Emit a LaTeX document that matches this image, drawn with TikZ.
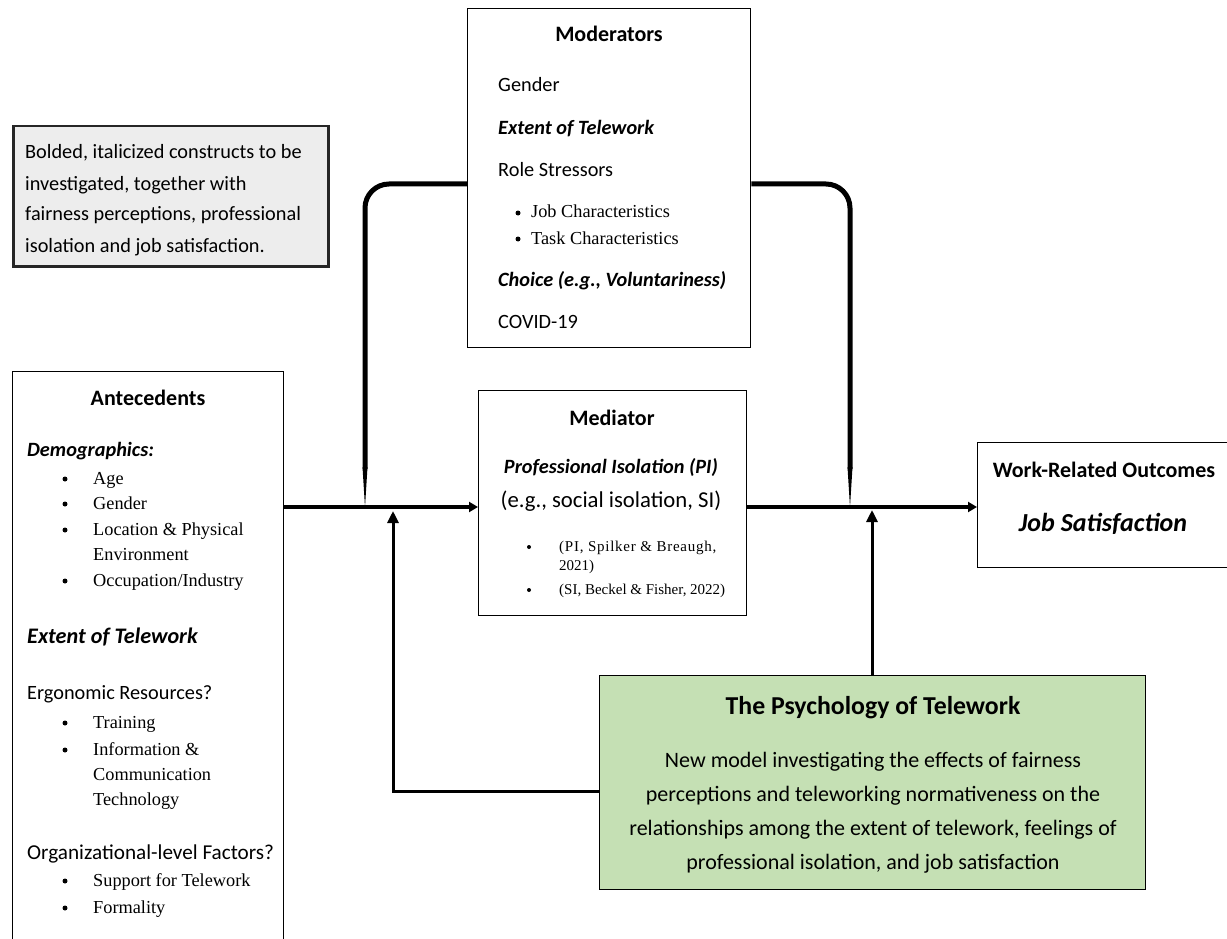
\documentclass[tikz,border=0pt]{standalone}
\usepackage{fontspec}
\setmainfont{Carlito}
\newfontfamily\tnr{Liberation Serif}
\newfontfamily\tnrsp[LetterSpace=5]{Liberation Serif}
\usetikzlibrary{arrows.meta}
\definecolor{notegray}{HTML}{EDEDED}
\definecolor{psygreen}{HTML}{C5E0B4}
\begin{document}
\begin{tikzpicture}[x=1pt,y=-1pt,
 box/.style={draw=black, line width=1.3pt, anchor=north west, inner sep=0pt},
 txt/.style={inner sep=0pt, anchor=base west, font=\fontsize{20.3}{24}\selectfont},
 hdr/.style={inner sep=0pt, anchor=base, font=\fontsize{22}{26}\selectfont\bfseries},
 bi/.style={inner sep=0pt, anchor=base west, font=\fontsize{20.3}{24}\selectfont\bfseries\itshape},
 itm/.style={inner sep=0pt, anchor=base west, font=\fontsize{18.3}{22}\selectfont\tnr},
 sitm/.style={inner sep=0pt, anchor=base west, font=\fontsize{15}{17}\selectfont\tnr},
 dot/.style={circle, fill=black, inner sep=0pt, minimum size=5pt},
 sdot/.style={circle, fill=black, inner sep=0pt, minimum size=4pt},
 ptxt/.style={inner sep=0pt, anchor=base, font=\fontsize{22}{26}\selectfont},
 main/.style={line width=4.5pt},
 modl/.style={line width=5pt, rounded corners=24pt},
 taper/.style={fill=black},
 upl/.style={line width=3pt},
]
\useasboundingbox (0,0) rectangle (1227,939);
\clip (0,0) rectangle (1227,939);

% ---------- boxes ----------
\node[box, draw=black!85, line width=2.5pt, fill=notegray, minimum width=315pt, minimum height=140pt] (note) at (12,125) {};
\node[box, minimum width=283pt, minimum height=339pt] (mod) at (467,8) {};
\node[box, minimum width=271pt, minimum height=620pt] (ante) at (12,371) {};
\node[box, minimum width=268pt, minimum height=225pt] (med) at (478,390) {};
\node[box, minimum width=300pt, minimum height=125pt] (out) at (977,442) {};
\node[box, fill=psygreen, minimum width=546pt, minimum height=214pt] (psy) at (599,675) {};

% ---------- note text ----------
\node[txt] (n1) at (25,159) {Bolded, italicized constructs to be};
\node[txt] (n2) at (25,190) {investigated, together with};
\node[txt] (n3) at (25,221) {fairness perceptions, professional};
\node[txt] (n4) at (25,252) {isolation and job satisfaction.};

% ---------- moderators ----------
\node[hdr] (modh) at (609,42) {Moderators};
\node[txt] (m1) at (498,92) {Gender};
\node[bi] (m2) at (498,135) {Extent of Telework};
\node[txt] (m3) at (498,177) {Role Stressors};
\node[dot] (md1) at (518,213) {};
\node[itm] (m4) at (531,218) {Job Characteristics};
\node[dot] (md2) at (518,239) {};
\node[itm] (m5) at (531,244) {Task Characteristics};
\node[bi] (m6) at (498,286) {Choice (e.g., Voluntariness)};
\node[txt] (m7) at (498,328) {COVID-19};

% ---------- antecedents ----------
\node[hdr] (anth) at (148,405) {Antecedents};
\node[bi] (a1) at (27,456) {Demographics:};
\node[dot] (ad1) at (65,479) {};
\node[itm] (ai1) at (93,484) {Age};
\node[dot] (ad2) at (65,504) {};
\node[itm] (ai2) at (93,509) {Gender};
\node[dot] (ad3) at (65,530) {};
\node[itm] (ai3) at (93,535) {Location \& Physical};
\node[itm] (ai4) at (93,560) {Environment};
\node[dot] (ad5) at (65,581) {};
\node[itm] (ai5) at (93,586) {Occupation/Industry};
\node[bi, font=\fontsize{22.2}{26}\selectfont\bfseries\itshape] (a2) at (27,643) {Extent of Telework};
\node[txt] (a3) at (27,699) {Ergonomic Resources?};
\node[dot] (bd1) at (65,723) {};
\node[itm] (bi1) at (93,728) {Training};
\node[dot] (bd2) at (65,750) {};
\node[itm] (bi2) at (93,755) {Information \&};
\node[itm] (bi3) at (93,780) {Communication};
\node[itm] (bi4) at (93,805) {Technology};
\node[txt, font=\fontsize{21.2}{25}\selectfont] (a4) at (27,859) {Organizational-level Factors?};
\node[dot] (cd1) at (65,881) {};
\node[itm] (ci1) at (93,886) {Support for Telework};
\node[dot] (cd2) at (65,908) {};
\node[itm] (ci2) at (93,913) {Formality};

% ---------- mediator ----------
\node[hdr] (medh) at (612,425) {Mediator};
\node[bi, anchor=base] (me1) at (611,473) {Professional Isolation (PI)};
\node[ptxt, font=\fontsize{22.7}{26}\selectfont] (me2) at (611,507) {(e.g., social isolation, SI)};
\node[sdot] (mdd1) at (529,547) {};
\node[sitm, font=\fontsize{15}{17}\selectfont\tnrsp] (me3) at (559,551) {(PI, Spilker \& Breaugh,};
\node[sitm] (me4) at (559,570) {2021)};
\node[sdot] (mdd2) at (529,590) {};
\node[sitm] (me5) at (559,594) {(SI, Beckel \& Fisher, 2022)};

% ---------- outcomes ----------
\node[hdr] (outh) at (1104,477) {Work-Related Outcomes};
\node[bi, anchor=base, font=\fontsize{26}{30}\selectfont\bfseries\itshape] (out1) at (1103,531) {Job Satisfaction};

% ---------- psychology ----------
\node[hdr, font=\fontsize{25.8}{30}\selectfont\bfseries] (psyh) at (873,714) {The Psychology of Telework};
\node[ptxt] (p1) at (873,767) {New model investigating the effects of fairness};
\node[ptxt] (p2) at (873,801) {perceptions and teleworking normativeness on the};
\node[ptxt] (p3) at (873,835) {relationships among the extent of telework, feelings of};
\node[ptxt] (p4) at (873,869) {professional isolation, and job satisfaction};

% ---------- connectors ----------
\coordinate (jl) at (365,507);
\coordinate (jr) at (850,507);
\coordinate (pl) at (393,791);
\coordinate (ul) at (393,511);
\coordinate (ur) at (872,510);

\draw[main, -{Triangle[length=9pt,width=10pt]}] (ante.north east |- jl) -- (med.west |- jl);
\draw[main, -{Triangle[length=9pt,width=10pt]}] (med.east |- jr) -- (out.west |- jr);
\draw[modl, shorten >=38pt] ([yshift=-176pt]mod.north west) -| (jl);
\fill[taper] (jl) -- ++(-2.5,-40) -- ++(5,0) -- cycle;
\draw[modl, shorten >=38pt] ([yshift=-176pt]mod.north east) -| (jr);
\fill[taper] (jr) -- ++(-2.5,-40) -- ++(5,0) -- cycle;
\draw[upl, -{Triangle[length=12pt,width=11pt]}] (psy.west |- pl) -| (ul);
\draw[upl, -{Triangle[length=12pt,width=11pt]}] (psy.north -| ur) -- (ur);
\end{tikzpicture}
\end{document}
